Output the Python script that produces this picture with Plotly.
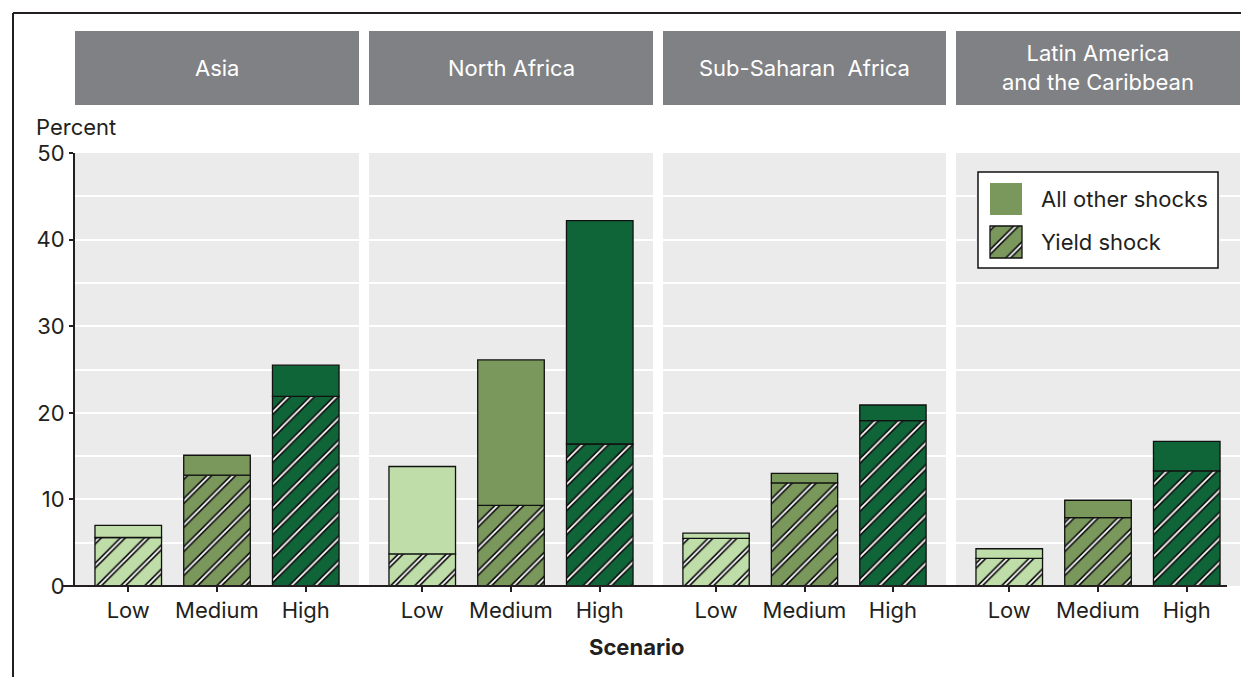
import plotly.graph_objects as go

# ---------------- data ----------------
regions = ["Asia", "North Africa", "Sub-Saharan\u00a0\u00a0Africa", "Latin America<br>and the Caribbean"]
scenarios = ["Low", "Medium", "High"]

asia_yield = [5.6, 12.8, 21.9]
asia_total = [7.0, 15.1, 25.5]
nafrica_yield = [3.7, 9.3, 16.4]
nafrica_total = [13.8, 26.1, 42.2]
ssafrica_yield = [5.5, 11.9, 19.1]
ssafrica_total = [6.1, 13.0, 20.9]
latam_yield = [3.2, 7.9, 13.3]
latam_total = [4.3, 9.9, 16.7]

yields = [asia_yield, nafrica_yield, ssafrica_yield, latam_yield]
totals = [asia_total, nafrica_total, ssafrica_total, latam_total]

y_ticks = [0, 10, 20, 30, 40, 50]
legend_labels = ["All other shocks", "Yield shock"]

# ---------------- style ----------------
W, H = 1249, 677
OFF = 8  # page body margin
FONT = "Inter"
TXT = "#231F20"
FS = 22
BAR_COLORS = ["#BEDDA8", "#7A985B", "#0F6537"]
PANEL_BG = "#EBEBEB"
HEADER_BG = "#808184"
BAR_W = 0.75
HATCH = 17
EDGE = "#111111"


def X(px):
    return (px - OFF) / W


def Y(py):
    return 1 - (py - OFF) / H


panels_px = [(75, 359), (369, 653), (663, 946), (956, 1240)]
plot_top, plot_bot = 153, 586

fig = go.Figure()
layout = dict(
    width=W, height=H,
    margin=dict(l=0, r=0, t=0, b=0, autoexpand=False),
    paper_bgcolor="white", plot_bgcolor=PANEL_BG,
    font=dict(family=FONT, size=FS, color=TXT),
    barmode="overlay", showlegend=False,
    shapes=[], annotations=[],
)


def add_stack(xa, ya, xval, y_yield, y_total, color, width):
    other = y_total - y_yield
    # yield shock: colour + black hatch
    fig.add_trace(go.Bar(
        x=[xval], y=[y_yield], base=[0], width=[width], xaxis=xa, yaxis=ya,
        marker=dict(color=color, line=dict(width=0),
                    pattern=dict(shape="/", fgcolor=EDGE, bgcolor=color,
                                 size=HATCH, solidity=0.30, fillmode="replace")),
        hoverinfo="skip"))
    # white core of hatch lines
    fig.add_trace(go.Bar(
        x=[xval], y=[y_yield], base=[0], width=[width], xaxis=xa, yaxis=ya,
        marker=dict(color="rgba(0,0,0,0)", line=dict(width=0),
                    pattern=dict(shape="/", fgcolor="white", bgcolor="rgba(0,0,0,0)",
                                 size=HATCH, solidity=0.10, fillmode="replace")),
        hoverinfo="skip"))
    # outline of yield part
    fig.add_trace(go.Bar(
        x=[xval], y=[y_yield], base=[0], width=[width], xaxis=xa, yaxis=ya,
        marker=dict(color="rgba(0,0,0,0)", line=dict(width=1.3, color=EDGE)),
        hoverinfo="skip"))
    # all other shocks
    if other > 0:
        fig.add_trace(go.Bar(
            x=[xval], y=[other], base=[y_yield], width=[width], xaxis=xa, yaxis=ya,
            marker=dict(color=color, line=dict(width=1.3, color=EDGE)),
            hoverinfo="skip"))


for i, (reg, (a, b)) in enumerate(zip(regions, panels_px)):
    n = "" if i == 0 else str(i + 1)
    xa, ya = "x" + n, "y" + n
    for j, sc in enumerate(scenarios):
        add_stack(xa, ya, sc, yields[i][j], totals[i][j], BAR_COLORS[j], BAR_W)

    layout["xaxis" + n] = dict(
        domain=[X(a), X(b)], anchor=ya, type="category",
        categoryorder="array", categoryarray=scenarios,
        range=[-0.6, 2.6], showgrid=False, showline=False, zeroline=False,
        ticks="outside", ticklen=5, tickwidth=2, tickcolor=TXT,
        tickfont=dict(size=FS, color=TXT), automargin=False, fixedrange=True)
    layout["yaxis" + n] = dict(
        domain=[Y(plot_bot), Y(plot_top)], anchor=xa, range=[0, 50],
        tickvals=y_ticks, showgrid=True, gridcolor="white", gridwidth=2,
        minor=dict(dtick=5, tick0=0, showgrid=True, gridcolor="white", gridwidth=2),
        zeroline=False,
        showline=(i == 0), linecolor=TXT, linewidth=2,
        ticks="outside" if i == 0 else "", ticklen=4, tickwidth=2, tickcolor=TXT,
        showticklabels=(i == 0), tickfont=dict(size=FS, color=TXT),
        automargin=False, fixedrange=True)
    # header strip
    layout["shapes"].append(dict(
        type="rect", xref="paper", yref="paper", x0=X(a), x1=X(b), y0=Y(105), y1=Y(31),
        fillcolor=HEADER_BG, line=dict(width=0), layer="below"))
    layout["annotations"].append(dict(
        text=reg, xref="paper", yref="paper", x=X((a + b) / 2), y=Y(68),
        xanchor="center", yanchor="middle", showarrow=False,
        font=dict(size=FS, color="white", family=FONT)))

# x-axis baseline
layout["shapes"].append(dict(
    type="line", xref="paper", yref="paper", x0=X(62), x1=X(1227), y0=Y(plot_bot), y1=Y(plot_bot),
    line=dict(color=TXT, width=2), layer="above"))
# outer frame (left & top)
layout["shapes"].append(dict(
    type="line", xref="paper", yref="paper", x0=X(13), x1=X(13), y0=Y(13), y1=-0.1,
    line=dict(color=TXT, width=2)))
layout["shapes"].append(dict(
    type="line", xref="paper", yref="paper", x0=X(13), x1=1.1, y0=Y(13), y1=Y(13),
    line=dict(color=TXT, width=2)))

layout["annotations"].append(dict(
    text="Percent", xref="paper", yref="paper", x=X(34), y=Y(127),
    xanchor="left", yanchor="middle", showarrow=False, font=dict(size=FS, color=TXT)))
layout["annotations"].append(dict(
    text="<b>Scenario</b>", xref="paper", yref="paper", x=X(637), y=Y(647),
    xanchor="center", yanchor="middle", showarrow=False, font=dict(size=FS, color=TXT)))

# ---------------- legend (drawn on its own small axis) ----------------
lx0, lx1, ly0, ly1 = 976, 1220, 170, 270
layout["xaxis5"] = dict(domain=[X(lx0), X(lx1)], anchor="y5", range=[-2, 242],
                        visible=False, fixedrange=True, automargin=False)
layout["yaxis5"] = dict(domain=[Y(ly1), Y(ly0)], anchor="x5", range=[-2, 98],
                        visible=False, fixedrange=True, automargin=False)
fig.add_trace(go.Bar(x=[120], y=[96], base=[0], width=[240], xaxis="x5", yaxis="y5",
                     marker=dict(color="white", line=dict(width=1.5, color=EDGE)),
                     hoverinfo="skip"))
# "All other shocks" swatch
fig.add_trace(go.Bar(x=[28], y=[32], base=[53], width=[32], xaxis="x5", yaxis="y5",
                     marker=dict(color=BAR_COLORS[1], line=dict(width=0)), hoverinfo="skip"))
# "Yield shock" swatch (hatched)
add_stack("x5", "y5", 28, 32, 32, BAR_COLORS[1], 32)
for tr in fig.data[-3:]:
    tr.base = [10]

for lab, yc in zip(legend_labels, [199, 242]):
    layout["annotations"].append(dict(
        text=lab, xref="paper", yref="paper", x=X(1039), y=Y(yc),
        xanchor="left", yanchor="middle", showarrow=False, font=dict(size=FS, color=TXT)))

fig.update_layout(**layout)
fig.write_html("out.html")
